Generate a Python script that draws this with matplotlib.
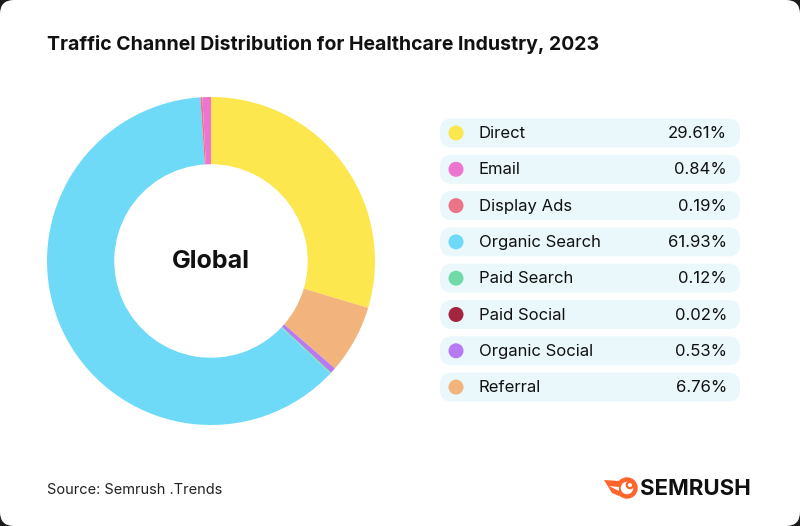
import matplotlib
matplotlib.use("Agg")
import matplotlib.pyplot as plt
from matplotlib.patches import FancyBboxPatch, Circle, Polygon

plt.rcParams['font.family'] = ['Inter', 'DejaVu Sans']

# --- dati ---
channels = ["Direct", "Email", "Display Ads", "Organic Search",
            "Paid Search", "Paid Social", "Organic Social", "Referral"]
shares = [29.61, 0.84, 0.19, 61.93, 0.12, 0.02, 0.53, 6.76]
colors = ["#FDE74F", "#EE74D2", "#EC7488", "#6FDAF8",
          "#70DBA9", "#A3253F", "#B87AF2", "#F2B47C"]

title = "Traffic Channel Distribution for Healthcare Industry, 2023"
source = "Source: Semrush .Trends"

W, H = 800, 526
fig = plt.figure(figsize=(W / 100, H / 100), dpi=100)
fig.patch.set_facecolor("#1b1b1b")

# overlay in pixel coords
bg = fig.add_axes([0, 0, 1, 1])
bg.set_xlim(0, W)
bg.set_ylim(H, 0)
bg.axis("off")
bg.add_patch(FancyBboxPatch((0, 0), W, H, boxstyle="round,pad=0,rounding_size=14",
                            fc="white", ec="none"))

bg.text(47, 45, title, fontsize=14, fontweight="bold", va="center", ha="left", color="#111111")
bg.text(47, 490, source, fontsize=10.5, va="center", ha="left", color="#222222")

# --- donut ---
cx, cy, r = 211, 261, 164
ax = fig.add_axes([(cx - r) / W, (H - cy - r) / H, 2 * r / W, 2 * r / H])
# ordine sul grafico: Direct poi gli altri al contrario, in senso orario dall'alto
order = [0] + list(range(len(channels) - 1, 0, -1))
ax.pie([shares[i] for i in order], colors=[colors[i] for i in order],
       startangle=90, counterclock=False, radius=1,
       wedgeprops=dict(width=0.41, edgecolor="none"))
ax.set_xlim(-1, 1)
ax.set_ylim(-1, 1)
ax.set_aspect("equal")
ax.axis("off")
ax.text(0, 0, "Global", ha="center", va="center", fontsize=18, fontweight="bold", color="#111111")

# --- legenda ---
y0, step = 133, 36.3
for i, (name, val, col) in enumerate(zip(channels, shares, colors)):
    y = y0 + i * step
    bg.add_patch(FancyBboxPatch((440, y - 14.5), 300, 29,
                                boxstyle="round,pad=0,rounding_size=12",
                                fc="#EAF8FC", ec="none"))
    bg.add_patch(Circle((456, y), 7.5, fc=col, ec="none"))
    bg.text(479, y + 0.5, name, fontsize=12, va="center", ha="left", color="#111111")
    bg.text(727, y + 0.5, f"{val:.2f}%", fontsize=12, va="center", ha="right", color="#111111")

# --- logo ---
orange = "#FF642D"
bg.add_patch(Circle((627, 488), 8.5, fc="none", ec=orange, lw=3.2))
bg.add_patch(Circle((630, 485), 3.2, fc="none", ec=orange, lw=1.6))
bg.add_patch(Polygon([(604, 480), (619, 481), (619, 496), (612, 493)], closed=True, fc=orange, ec="none"))
bg.add_patch(Polygon([(609, 486), (619, 487), (619, 491)], closed=True, fc="white", ec="none"))
bg.text(640, 489, "SEMRUSH", fontsize=16, fontweight="bold", va="center", ha="left", color="#111111")

fig.savefig("out.png", dpi=100, facecolor=fig.get_facecolor())
